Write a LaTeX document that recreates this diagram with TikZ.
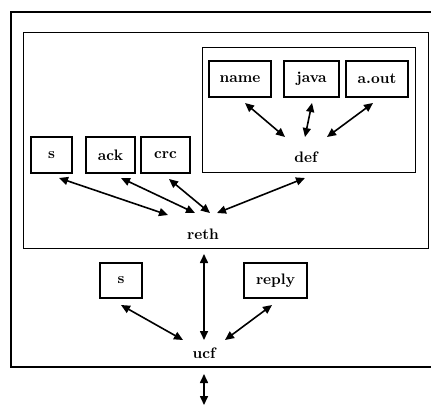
\documentclass[tikz,border=0pt]{standalone}
\usetikzlibrary{arrows.meta}
\newcommand\lab[1]{\scalebox{1.52}{\bfseries #1}}
\begin{document}
\begin{tikzpicture}[x=1pt,y=-1pt,
  lbl/.style={inner sep=0pt},
  cbox/.style={draw, line width=1.3pt, lbl, minimum height=36pt},
  frame/.style={draw, line width=1.3pt},
  link/.style={line width=1.6pt, {Triangle[length=9pt,width=8pt]}-{Triangle[length=9pt,width=8pt]}}]
\useasboundingbox (0,0) rectangle (431,405);
% frames
\draw[frame] (431,12) -- (11,12) -- (11,367) -- (431,367);
\node[frame, minimum width=405pt, minimum height=216pt, inner sep=0pt, anchor=north west] (rethbox) at (23,32) {};
\node[frame, minimum width=213pt, minimum height=125pt, inner sep=0pt, anchor=north west] (defbox) at (202,47) {};
% boxes
\node[cbox, minimum width=62pt] (name) at (240,79) {\lab{name}};
\node[cbox, minimum width=55pt] (java) at (311.5,79) {\lab{java}};
\node[cbox, minimum width=62pt] (aout) at (377,79) {\lab{a.out}};
\node[cbox, minimum width=41pt] (s1) at (51.5,155) {\lab{s}};
\node[cbox, minimum width=49pt] (ack) at (110.5,155) {\lab{ack}};
\node[cbox, minimum width=49pt] (crc) at (165.5,155) {\lab{crc}};
\node[cbox, minimum width=42pt, minimum height=35pt] (s2) at (121,280.5) {\lab{s}};
\node[cbox, minimum width=63pt, minimum height=35pt] (reply) at (275.5,280.5) {\lab{reply}};
% labels
\node[lbl] (def) at (306,157) {\lab{def}};
\node[lbl] (reth) at (203,234) {\lab{reth}};
\node[lbl] (ucf) at (204,353) {\lab{ucf}};
% arrow endpoints
\coordinate (nameE) at (245,103); \coordinate (defN1) at (285,137);
\coordinate (javaE) at (312,103); \coordinate (defN2) at (305,137);
\coordinate (aoutE) at (373,103); \coordinate (defN3) at (327,137);
\coordinate (s1E) at (59,178);   \coordinate (rethN1) at (168,215);
\coordinate (ackE) at (121,178); \coordinate (rethN2) at (195,213);
\coordinate (crcE) at (169,179); \coordinate (rethN3) at (210,213);
\coordinate (defS) at (305,178); \coordinate (rethN4) at (217,213);
\coordinate (rethS) at (204,254); \coordinate (ucfN) at (204,340);
\coordinate (s2E) at (121,305);  \coordinate (ucfN1) at (183,340);
\coordinate (replyE) at (272,305); \coordinate (ucfN2) at (225,340);
\coordinate (outT) at (204,374); \coordinate (outB) at (204,405);
% arrows
\draw[link] (nameE) -- (defN1);
\draw[link] (javaE) -- (defN2);
\draw[link] (aoutE) -- (defN3);
\draw[link] (s1E) -- (rethN1);
\draw[link] (ackE) -- (rethN2);
\draw[link] (crcE) -- (rethN3);
\draw[link] (defS) -- (rethN4);
\draw[link] (rethS) -- (ucfN);
\draw[link] (s2E) -- (ucfN1);
\draw[link] (replyE) -- (ucfN2);
\draw[link] (outT) -- (outB);
\end{tikzpicture}
\end{document}
